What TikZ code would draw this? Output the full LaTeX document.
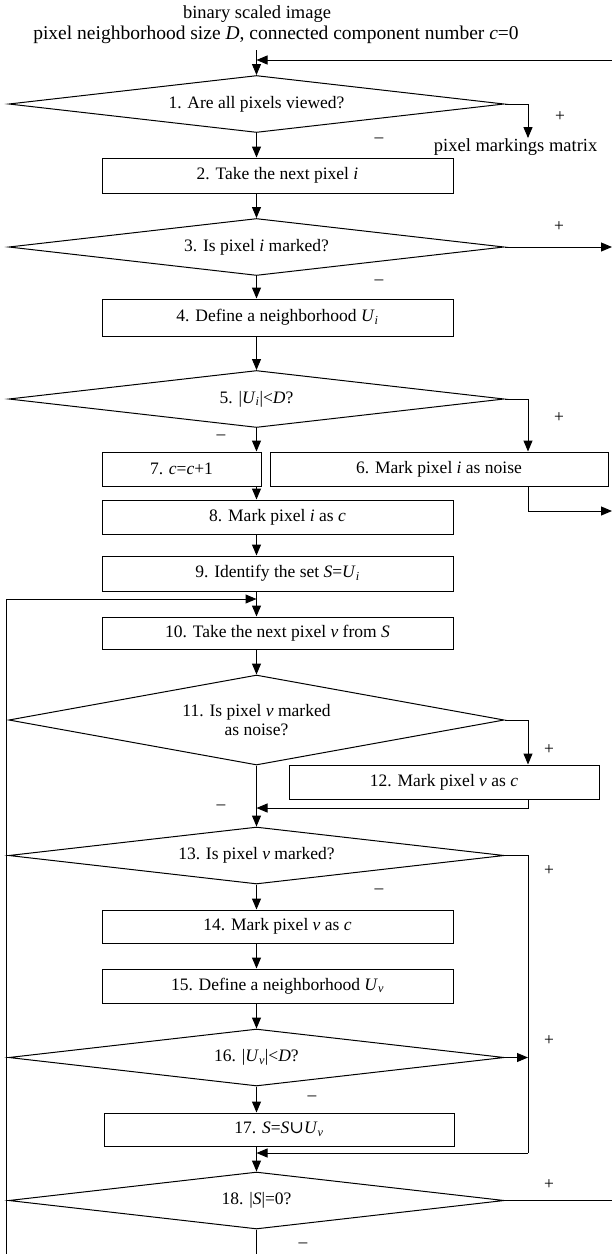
\documentclass[tikz,border=0pt]{standalone}
\usepackage{fontspec}
\setmainfont{Liberation Serif}
\newfontfamily\symfam{DejaVu Serif}
\usetikzlibrary{shapes.geometric,arrows.meta}
\begin{document}
\begin{tikzpicture}[x=1pt,y=-1pt,line width=1pt,
  font=\fontsize{17.5}{19.5}\selectfont,
  arr/.style={-{Triangle[length=11pt,width=9pt]}},
  box/.style={draw,rectangle,inner sep=0pt},
  dia/.style={draw,diamond,inner sep=0pt,shape aspect=8,minimum width=495.4pt,minimum height=57pt},
  lab/.style={inner sep=0pt},
  toplab/.style={inner sep=0pt,font=\fontsize{18.5}{20}\selectfont}]
\useasboundingbox (0,0) rectangle (612,1254);
\coordinate (mx) at (256.5,0);
\coordinate (rx) at (528,0);
% top texts
\node[toplab] (t1) at (257,14) {binary scaled image};
\node[toplab,font=\fontsize{19.5}{21}\selectfont] (t2) at (276,35) {pixel neighborhood size \textit{D}, connected component number \textit{c}=0};
% nodes
\node[dia] (d1) at (256.5,104) {1. Are all pixels viewed?};
\node[box,minimum width=351pt,minimum height=35pt] (b2) at (277.5,175.5) {2. Take the next pixel \textit{i}};
\node[dia] (d3) at (256.5,247) {3. Is pixel \textit{i} marked?};
\node[box,minimum width=351pt,minimum height=37pt] (b4) at (277.5,317.5) {4. Define a neighborhood \textit{U}\textsubscript{\textit{i}}};
\node[dia] (d5) at (256.5,399) {5. |\textit{U}\textsubscript{\textit{i}}|<\textit{D}?};
\node[box,minimum width=159pt,minimum height=34pt] (b7) at (181.5,469) {7. \textit{c}=\textit{c}+1};
\node[box,minimum width=338pt,minimum height=34pt] (b6) at (439,469) {6. Mark pixel \textit{i} as noise};
\node[box,minimum width=351pt,minimum height=34pt] (b8) at (277.5,517) {8. Mark pixel \textit{i} as \textit{c}};
\node[box,minimum width=351pt,minimum height=35pt] (b9) at (277.5,573.5) {9. Identify the set \textit{S}=\textit{U}\textsubscript{\textit{i}}};
\node[box,minimum width=351pt,minimum height=32pt] (b10) at (277.5,633) {10. Take the next pixel \textit{v} from \textit{S}};
\node[dia,minimum height=90pt,shape aspect=5.5,align=center] (d11) at (256.5,720) {11. Is pixel \textit{v} marked\\as noise?};
\node[box,minimum width=310pt,minimum height=34pt] (b12) at (444,782) {12. Mark pixel \textit{v} as \textit{c}};
\node[dia] (d13) at (256.5,855.5) {13. Is pixel \textit{v} marked?};
\node[box,minimum width=351pt,minimum height=33pt] (b14) at (277.5,926.5) {14. Mark pixel \textit{v} as \textit{c}};
\node[box,minimum width=351pt,minimum height=34pt] (b15) at (277.5,986) {15. Define a neighborhood \textit{U}\textsubscript{\textit{v}}};
\node[dia] (d16) at (256.5,1057.5) {16. |\textit{U}\textsubscript{\textit{v}}|<\textit{D}?};
\node[box,minimum width=350pt,minimum height=33pt] (b17) at (279,1129.5) {17. \textit{S}=\textit{S}{\symfam ∪}\textit{U}\textsubscript{\textit{v}}};
\node[dia] (d18) at (256.5,1200.5) {18. |\textit{S}|=0?};
% output label
\node[toplab] (out) at (515.6,147) {pixel markings matrix};
% coordinates
\coordinate (top) at (256.5,50);
\coordinate (fb) at (612,60);
\coordinate (e3) at (612,247);
\coordinate (e6) at (612,511);
\coordinate (lb) at (6,1254);
\coordinate (lp) at (256.5,599);
\coordinate (j1) at (256.5,808);
\coordinate (j2) at (256.5,1153);
\coordinate (e18) at (612,1200.5);
\coordinate (bot) at (256.5,1254);
% connectors
\draw[arr] (top) -- (d1.north);
\draw[arr] (fb) -- (fb -| mx);
\draw[arr] (d1.east) -| (rx |- out.north);
\draw[arr] (d1.south) -- (d1.south |- b2.north);
\draw[arr] (mx |- b2.south) -- (d3.north);
\draw[arr] (d3.east) -- (e3);
\draw[arr] (d3.south) -- (d3.south |- b4.north);
\draw[arr] (mx |- b4.south) -- (d5.north);
\draw[arr] (d5.east) -| (rx |- b6.north);
\draw[arr] (rx |- b6.south) |- (e6);
\draw[arr] (d5.south) -- (d5.south |- b7.north);
\draw[arr] (mx |- b7.south) -- (mx |- b8.north);
\draw[arr] (mx |- b8.south) -- (mx |- b9.north);
\draw (mx |- b9.south) -- (lp);
\draw[arr] (lb) |- (lp);
\draw[arr] (lp) -- (mx |- b10.north);
\draw[arr] (mx |- b10.south) -- (d11.north);
\draw[arr] (d11.east) -| (rx |- b12.north);
\draw[arr] (rx |- b12.south) |- (j1);
\draw[arr] (d11.south) -- (d13.north);
\draw (d13.east) -| (rx |- j2);
\draw[arr] (rx |- j2) -- (j2);
\draw[arr] (d13.south) -- (d13.south |- b14.north);
\draw[arr] (mx |- b14.south) -- (mx |- b15.north);
\draw[arr] (mx |- b15.south) -- (d16.north);
\draw[arr] (d16.east) -- (rx |- d16.east);
\draw[arr] (d16.south) -- (d16.south |- b17.north);
\draw[arr] (mx |- b17.south) -- (d18.north);
\draw (d18.east) -- (e18);
\draw (d18.south) -- (bot);
% plus / minus labels
\node[lab] (pl1) at (560,117) {+};
\node[lab] (mi1) at (379,140) {\textendash};
\node[lab] (pl3) at (559,227) {+};
\node[lab] (mi3) at (379,282) {\textendash};
\node[lab] (pl5) at (559,418) {+};
\node[lab] (mi5) at (221,437) {\textendash};
\node[lab] (pl11) at (549,750) {+};
\node[lab] (mi11) at (221,807) {\textendash};
\node[lab] (pl13) at (549,871) {+};
\node[lab] (mi13) at (379,891) {\textendash};
\node[lab] (pl16) at (549,1041) {+};
\node[lab] (mi16) at (312,1098) {\textendash};
\node[lab] (pl18) at (549,1185) {+};
\node[lab] (mi18) at (303,1245) {\textendash};
\end{tikzpicture}
\end{document}
